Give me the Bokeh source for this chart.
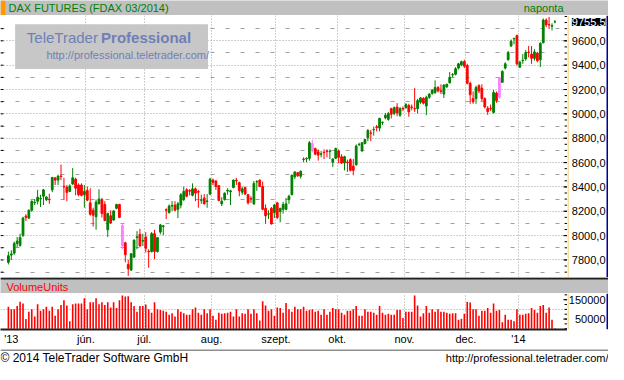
from bokeh.plotting import figure
from bokeh.layouts import column, row
from bokeh.models import (Range1d, LinearAxis, FixedTicker, Grid, Label,
                          BoxAnnotation, ColumnDataSource)
from bokeh.core.properties import value
from bokeh.embed import file_html
from bokeh.resources import INLINE

# ---------------- data ----------------
opens = [7781, 7840, 7856, 7936, 7920, 8003, 8160, 8144, 8208, 8270,
         8283, 8300, 8323, 8296, 8300, 8376, 8475, 8456, 8490, 8405,
         8397, 8363, 8424, 8464, 8416, 8416, 8336, 8371, 8269, 8208,
         8155, 8261, 8296, 8256, 8048, 8163, 8128, 8224, 8256, 8083,
         7941, 7763, 7717, 7824, 7984, 8011, 7955, 7989, 7872, 7869,
         8016, 7869, 8029, 8075, 8213, 8189, 8243, 8251, 8216, 8251,
         8296, 8376, 8370, 8331, 8384, 8363, 8290, 8309, 8280, 8341,
         8456, 8448, 8410, 8261, 8296, 8366, 8360, 8395, 8456, 8435,
         8357, 8395, 8336, 8304, 8261, 8440, 8456, 8403, 8224, 8176,
         8224, 8189, 8269, 8197, 8216, 8216, 8296, 8336, 8483, 8517,
         8488, 8629, 8630, 8635, 8757, 8715, 8688, 8668, 8685, 8696,
         8690, 8603, 8635, 8696, 8648, 8597, 8605, 8624, 8571, 8581,
         8747, 8696, 8757, 8803, 8843, 8869, 8891, 8883, 8928, 8968,
         8955, 9043, 9003, 9056, 8989, 9045, 9051, 9069, 9056, 9043,
         9043, 9096, 9128, 9064, 9136, 9168, 9176, 9216, 9189, 9163,
         9221, 9256, 9320, 9325, 9376, 9403, 9429, 9397, 9251, 9125,
         9125, 9232, 9211, 9125, 9045, 9045, 9011, 9171, 9136, 9259,
         9376, 9445, 9557, 9616, 9643, 9384, 9437, 9451, 9507, 9491,
         9456, 9499, 9445, 9584, 9771, 9733, 9720, 9755]

highs = [7869, 7880, 7950, 7989, 8016, 8155, 8176, 8216, 8288, 8300,
         8376, 8336, 8381, 8323, 8344, 8483, 8475, 8501, 8584, 8475,
         8416, 8421, 8555, 8475, 8429, 8429, 8416, 8403, 8389, 8229,
         8296, 8381, 8309, 8283, 8189, 8208, 8208, 8261, 8261, 8096,
         7949, 7803, 7856, 7968, 8037, 8056, 8016, 8029, 7888, 8029,
         8048, 7989, 8096, 8088, 8224, 8256, 8283, 8283, 8277, 8349,
         8403, 8389, 8381, 8429, 8395, 8376, 8336, 8341, 8341, 8475,
         8469, 8456, 8416, 8315, 8355, 8389, 8376, 8461, 8475, 8443,
         8403, 8403, 8341, 8323, 8448, 8456, 8461, 8443, 8256, 8208,
         8235, 8261, 8277, 8229, 8277, 8309, 8336, 8501, 8528, 8523,
         8536, 8643, 8643, 8776, 8789, 8723, 8709, 8696, 8709, 8709,
         8709, 8635, 8723, 8709, 8669, 8656, 8624, 8635, 8629, 8749,
         8763, 8768, 8795, 8875, 8869, 8896, 8909, 8968, 8936, 9008,
         9016, 9051, 9061, 9088, 9056, 9061, 9088, 9083, 9077, 9211,
         9123, 9136, 9136, 9149, 9168, 9203, 9275, 9229, 9243, 9243,
         9248, 9344, 9336, 9384, 9419, 9437, 9445, 9411, 9264, 9184,
         9232, 9243, 9243, 9136, 9064, 9077, 9197, 9184, 9304, 9357,
         9424, 9517, 9611, 9624, 9651, 9437, 9491, 9525, 9557, 9557,
         9531, 9509, 9589, 9784, 9784, 9797, 9744, 9771]

lows = [7763, 7800, 7843, 7904, 7909, 7989, 8120, 8136, 8197, 8250,
        8256, 8235, 8251, 8283, 8261, 8357, 8416, 8416, 8456, 8296,
        8283, 8357, 8416, 8331, 8323, 8323, 8229, 8283, 8163, 8075,
        8048, 8256, 8149, 8123, 7989, 8096, 8123, 8216, 8144, 7888,
        7781, 7669, 7709, 7816, 7888, 7909, 7915, 7861, 7736, 7861,
        7808, 7861, 8011, 8003, 8136, 8181, 8203, 8203, 8144, 8224,
        8283, 8315, 8331, 8323, 8283, 8229, 8261, 8256, 8229, 8331,
        8416, 8376, 8283, 8243, 8288, 8336, 8251, 8389, 8416, 8323,
        8336, 8336, 8256, 8269, 8251, 8368, 8403, 8208, 8096, 8136,
        8091, 8144, 8136, 8109, 8181, 8208, 8261, 8331, 8464, 8483,
        8469, 8603, 8603, 8616, 8683, 8661, 8616, 8643, 8629, 8643,
        8629, 8563, 8629, 8595, 8589, 8536, 8523, 8528, 8496, 8576,
        8736, 8688, 8749, 8776, 8776, 8821, 8856, 8856, 8909, 8955,
        8944, 8963, 8989, 8981, 8976, 9024, 9043, 8976, 9029, 9016,
        9003, 9083, 9077, 8989, 9123, 9157, 9163, 9176, 9163, 9131,
        9216, 9248, 9301, 9317, 9365, 9392, 9376, 9243, 9083, 9083,
        9083, 9171, 9104, 9045, 8992, 9024, 9003, 9091, 9125, 9259,
        9365, 9437, 9552, 9571, 9397, 9376, 9411, 9437, 9464, 9411,
        9437, 9424, 9384, 9579, 9712, 9696, 9685, 9744]

closes = [7835, 7850, 7936, 7955, 7984, 8144, 8150, 8208, 8283, 8275,
          8315, 8305, 8376, 8317, 8295, 8477, 8456, 8488, 8485, 8400,
          8355, 8408, 8475, 8389, 8336, 8331, 8363, 8291, 8176, 8168,
          8275, 8301, 8181, 8123, 8181, 8104, 8203, 8256, 8149, 7915,
          7843, 7728, 7851, 7963, 7990, 7915, 7960, 7896, 7867, 8016,
          7869, 7984, 8088, 8080, 8208, 8243, 8248, 8208, 8261, 8336,
          8363, 8323, 8365, 8384, 8349, 8357, 8295, 8261, 8285, 8464,
          8437, 8403, 8288, 8283, 8349, 8372, 8368, 8456, 8450, 8368,
          8384, 8341, 8269, 8300, 8429, 8443, 8403, 8216, 8163, 8180,
          8096, 8251, 8149, 8224, 8256, 8261, 8323, 8496, 8523, 8491,
          8528, 8625, 8635, 8763, 8696, 8669, 8661, 8672, 8681, 8692,
          8694, 8629, 8715, 8643, 8597, 8648, 8600, 8536, 8536, 8736,
          8750, 8763, 8789, 8864, 8840, 8872, 8888, 8963, 8932, 8989,
          9003, 8997, 9051, 9008, 9043, 9040, 9077, 9016, 9052, 9040,
          9109, 9131, 9088, 9136, 9163, 9195, 9216, 9189, 9185, 9237,
          9243, 9301, 9323, 9371, 9411, 9429, 9392, 9251, 9157, 9099,
          9216, 9189, 9125, 9056, 9019, 9040, 9176, 9109, 9296, 9349,
          9411, 9504, 9597, 9620, 9411, 9424, 9440, 9504, 9504, 9456,
          9509, 9437, 9579, 9771, 9731, 9730, 9725, 9755.5]

volume_thousands = [113, 100, 100, 117, 140, 130, 50, 88, 100, 63,
                    127, 93, 100, 113, 93, 113, 67, 100, 123, 147,
                    120, 38, 127, 130, 130, 130, 157, 100, 137, 137,
                    157, 127, 137, 123, 137, 110, 137, 107, 147, 172,
                    167, 168, 137, 117, 88, 117, 117, 125, 100, 83,
                    137, 100, 97, 93, 88, 72, 80, 63, 100, 88,
                    80, 72, 72, 100, 110, 83, 72, 100, 80, 100,
                    67, 47, 83, 77, 80, 83, 88, 63, 100, 63,
                    80, 77, 100, 77, 100, 80, 42, 142, 120, 93,
                    100, 67, 110, 107, 83, 133, 100, 88, 113, 100,
                    100, 113, 93, 97, 100, 88, 93, 72, 100, 72,
                    88, 107, 100, 100, 83, 72, 93, 93, 100, 117,
                    67, 67, 100, 88, 88, 83, 72, 117, 83, 72,
                    77, 72, 72, 97, 97, 55, 88, 88, 88, 172,
                    120, 63, 80, 117, 83, 100, 88, 100, 88, 88,
                    83, 77, 80, 80, 47, 52, 77, 138, 135, 100,
                    100, 67, 93, 93, 107, 83, 130, 93, 97, 33,
                    72, 47, 47, 38, 100, 72, 72, 77, 80, 107,
                    97, 83, 117, 123, 83, 110, 47, 3]

roll_days = [39, 104, 168]          # contract-roll sessions (pink candles)
month_labels = ["'13", "jún.", "júl.", "aug.", "szept.", "okt.", "nov.", "dec.", "'14"]
month_pos = [1, 26.5, 46.5, 69.5, 91.5, 112.5, 135.5, 156.5, 174.5]
price_ticks = [7800, 8000, 8200, 8400, 8600, 8800, 9000, 9200, 9400, 9600]
price_tick_labels = ["7800,0", "8000,0", "8200,0", "8400,0", "8600,0",
                     "8800,0", "9000,0", "9200,0", "9400,0", "9600,0"]
price_half_ticks = [7700, 7900, 8100, 8300, 8500, 8700, 8900, 9100, 9300, 9500, 9700]
price_minor_ticks = list(range(7700, 9850, 50))
volume_ticks = [50000, 150000]
volume_tick_labels = ["50000", "150000"]
volume_minor_ticks = list(range(0, 200000, 25000))
last_price = 9755.5
last_price_label = "9755,5"

# ---------------- styling ----------------
W = 608
AXW = 41                  # width of the right-hand value column
PW = W - AXW              # width of the plotting frames
FONT = "Liberation Sans"
GREEN, RED, PINK = "#008000", "#ff0000", "#ff80ff"
BAND = "#c0c0c0"
GRID = "#a0a0a0"
YELLOW = "#f0c040"
BLUE = "#0000a0"
DARK = "#202020"

n = len(closes)
idx = list(range(n))
colors = []
for i in idx:
    if i in roll_days:
        colors.append(PINK)
    elif closes[i] >= opens[i]:
        colors.append(GREEN)
    else:
        colors.append(RED)

src = ColumnDataSource(dict(
    x=idx, o=opens, h=highs, l=lows, c=closes,
    top=[max(a, b) for a, b in zip(opens, closes)],
    bottom=[min(a, b) for a, b in zip(opens, closes)],
    color=colors,
    vol=[v * 1000 for v in volume_thousands],
))

x_range = Range1d(-2.7, 191.3)
price_range = Range1d(7656, 9808)
vol_range = Range1d(-4000, 182000)


def base_fig(w, h, xr, yr, bg="white"):
    f = figure(width=w, height=h, x_range=xr, y_range=yr, title=None,
               x_axis_type=None, y_axis_type=None, toolbar_location=None,
               output_backend="svg", min_border=0)
    f.background_fill_color = bg
    f.border_fill_color = bg
    f.outline_line_color = None
    f.xgrid.visible = False
    f.ygrid.visible = False
    return f


def tick_marks(f, ticks, length):
    """short inward tick marks at the right edge of a frame"""
    xr = f.x_range
    f.segment(x0=[xr.end - length] * len(ticks), x1=[xr.end] * len(ticks),
              y0=ticks, y1=ticks, line_color="black", line_width=1)


def value_column(h, yr, ticks, labels, bottom_border=0):
    a = base_fig(AXW, h, Range1d(0, AXW), yr)
    a.min_border_bottom = bottom_border
    a.add_layout(BoxAnnotation(left=0, right=1, fill_color=YELLOW, fill_alpha=1, line_color=None))
    a.add_layout(BoxAnnotation(left=AXW - 2, right=AXW, fill_color=BLUE, fill_alpha=1, line_color=None))
    a.text(x=[AXW - 3] * len(ticks), y=ticks, text=labels, text_align="right",
           text_baseline="middle", text_font=value(FONT), text_font_size="11px",
           text_color="black")
    return a


# ---------------- title band ----------------
t = base_fig(W, 15, Range1d(0, W), Range1d(0, 15), BAND)
t.add_layout(BoxAnnotation(left=0, right=5, fill_color="#ff9900", fill_alpha=1, line_color=None))
t.add_layout(Label(x=8, y=7.5, text="DAX FUTURES (FDAX 03/2014)", text_color=GREEN,
                   text_font=FONT, text_font_size="11px", text_baseline="middle"))
t.add_layout(Label(x=PW - 4, y=7.5, text="naponta", text_color=GREEN, text_align="right",
                   text_font=FONT, text_font_size="11px", text_baseline="middle"))

# ---------------- price panel ----------------
p = base_fig(PW, 262, x_range, price_range)
p.add_layout(Grid(dimension=1, ticker=FixedTicker(ticks=price_ticks),
                  grid_line_color=GRID, grid_line_dash="1 2"))
p.add_layout(Grid(dimension=1, ticker=FixedTicker(ticks=price_half_ticks),
                  grid_line_color=GRID, grid_line_dash="4 11"))
p.add_layout(Grid(dimension=0, ticker=FixedTicker(ticks=month_pos[1:]),
                  grid_line_color=GRID, grid_line_dash="1 2"))

# left edge tick marks
left_ticks = sorted(price_ticks + price_half_ticks)
p.segment(x0=[x_range.start] * len(left_ticks), x1=[x_range.start + 1.0] * len(left_ticks),
          y0=left_ticks, y1=left_ticks, line_color="black", line_width=1)
# right edge tick marks
tick_marks(p, price_minor_ticks, 1.0)
tick_marks(p, price_ticks, 1.4)

# watermark
p.add_layout(BoxAnnotation(left=2.3, right=68.3, top=9736, bottom=9368,
                           fill_color="#c4c4c4", fill_alpha=0.95, line_color=None))
p.add_layout(Label(x=6.3, y=9624, text="TeleTrader", text_color="#6f7fb8",
                   text_font=FONT, text_font_size="15px", text_baseline="middle"))
p.add_layout(Label(x=31.7, y=9624, text="Professional", text_color="#6f7fb8",
                   text_font=FONT, text_font_size="15px", text_font_style="bold",
                   text_baseline="middle"))
p.add_layout(Label(x=13, y=9480, text="http://professional.teletrader.com/",
                   text_color="#6f7fb8", text_font=FONT, text_font_size="11px",
                   text_baseline="middle"))

p.segment(x0="x", y0="l", x1="x", y1="h", line_color="color", line_width=1, source=src)
p.vbar(x="x", width=0.6, top="top", bottom="bottom", fill_color="color",
       line_color="color", line_width=1, source=src)

pa = value_column(262, price_range, price_ticks, price_tick_labels)
pa.add_layout(Label(x=AXW - 3, y=last_price, text=last_price_label, text_color="white",
                    text_align="right", background_fill_color="black",
                    text_font=FONT, text_font_size="11px", text_baseline="middle"))

# ---------------- volume header ----------------
vh = base_fig(W, 16, Range1d(0, W), Range1d(0, 16), BAND)
vh.add_layout(BoxAnnotation(bottom=14, top=16, fill_color=DARK, fill_alpha=1, line_color=None))
vh.add_layout(Label(x=6, y=7, text="VolumeUnits", text_color=RED,
                    text_font=FONT, text_font_size="11px", text_baseline="middle"))

# ---------------- volume panel ----------------
VH = 56
XB = 20
v = base_fig(PW, VH, x_range, vol_range)
v.min_border_bottom = XB
v.add_layout(Grid(dimension=1, ticker=FixedTicker(ticks=[100000]),
                  grid_line_color=GRID, grid_line_dash="1 2"))
v.add_layout(Grid(dimension=0, ticker=FixedTicker(ticks=month_pos[1:]),
                  grid_line_color=GRID, grid_line_dash="1 2"))
v.vbar(x="x", width=0.55, top="vol", bottom=0, fill_color=RED, line_color=None, source=src)
tick_marks(v, volume_minor_ticks, 1.0)
tick_marks(v, volume_ticks, 1.4)

xa = LinearAxis(ticker=FixedTicker(ticks=month_pos))
xa.major_label_overrides = {pos: lab for pos, lab in zip(month_pos, month_labels)}
xa.axis_line_color = DARK
xa.axis_line_width = 2
xa.major_tick_in = 0
xa.major_tick_out = 0
xa.minor_tick_in = 0
xa.minor_tick_out = 0
xa.major_label_text_font = FONT
xa.major_label_text_font_size = "11px"
xa.major_label_text_color = "black"
xa.major_label_standoff = 3
xa.axis_label_standoff = 0
v.add_layout(xa, "below")

va = value_column(VH, vol_range, volume_ticks, volume_tick_labels, bottom_border=XB)

# ---------------- footer ----------------
ft = base_fig(W, 15, Range1d(0, W), Range1d(0, 15))
ft.add_layout(BoxAnnotation(bottom=14, top=15, fill_color=DARK, fill_alpha=1, line_color=None))
ft.add_layout(Label(x=0, y=6.5, text="© 2014 TeleTrader Software GmbH", text_color="black",
                    text_font=FONT, text_font_size="12px", text_baseline="middle"))
ft.add_layout(Label(x=W, y=6.5, text="http://professional.teletrader.com/", text_color="black",
                    text_font=FONT, text_font_size="11px", text_baseline="middle",
                    text_align="right"))

layout = column(t, row(p, pa, spacing=0), vh, row(v, va, spacing=0), ft, spacing=0)
open("out.html", "w").write(file_html(layout, INLINE))
